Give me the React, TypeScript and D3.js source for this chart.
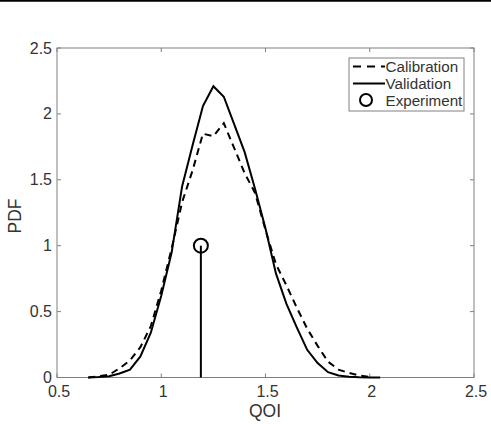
import React from "react";
import * as d3 from "d3";

const qoiCal = [0.65, 0.7, 0.75, 0.8, 0.85, 0.9, 0.95, 1.0, 1.05, 1.1, 1.15, 1.2, 1.25, 1.3, 1.35, 1.4, 1.45, 1.5, 1.55, 1.6, 1.65, 1.7, 1.75, 1.8, 1.85, 1.9, 1.95, 2.0];
const calibration = [0, 0.01, 0.02, 0.07, 0.13, 0.23, 0.39, 0.66, 0.98, 1.33, 1.57, 1.85, 1.83, 1.93, 1.74, 1.55, 1.40, 1.12, 0.86, 0.70, 0.53, 0.37, 0.24, 0.12, 0.06, 0.035, 0.015, 0.004];
const qoiVal = [0.65, 0.7, 0.75, 0.8, 0.85, 0.9, 0.95, 1.0, 1.05, 1.1, 1.15, 1.2, 1.25, 1.3, 1.35, 1.4, 1.45, 1.5, 1.55, 1.6, 1.65, 1.7, 1.75, 1.8, 1.85, 1.9, 1.95, 2.0, 2.05];
const validation = [0, 0.003, 0.01, 0.03, 0.06, 0.16, 0.34, 0.62, 0.95, 1.45, 1.76, 2.06, 2.21, 2.13, 1.92, 1.71, 1.43, 1.13, 0.79, 0.56, 0.38, 0.21, 0.11, 0.04, 0.015, 0.005, 0.001, 0, 0];
const experimentQ = [1.19];
const experimentP = [1.0];
const xTicks = [0.5, 1, 1.5, 2, 2.5];
const yTicks = [0, 0.5, 1, 1.5, 2, 2.5];
const legendLabels = ["Calibration", "Validation", "Experiment"];

export default function App() {
  const W = 491, H = 424;
  const left = 57, right = 474, top = 48, bottom = 377.5;
  const x = d3.scaleLinear().domain([0.5, 2.5]).range([left, right]);
  const y = d3.scaleLinear().domain([0, 2.5]).range([bottom, top]);
  const calPath = d3.line<number>().x((_, i) => x(qoiCal[i])).y((d) => y(d))(calibration) || "";
  const valPath = d3.line<number>().x((_, i) => x(qoiVal[i])).y((d) => y(d))(validation) || "";
  const axisColor = "#808080";
  const textColor = "#333";
  const font = "Liberation Sans, Arial, Helvetica, sans-serif";
  const tickLen = 4;
  const lg = { x0: 349, y0: 58, x1: 464, y1: 111 };
  const rowY = [66.5, 83.5, 100];
  return (
    <svg width={W} height={H} style={{ position: "absolute", left: 0, top: 0 }} fontFamily={font}>
      <rect x={0} y={0} width={W} height={H} fill="#fff" />
      <line x1={0} x2={W} y1={0.8} y2={0.8} stroke="#000" strokeWidth={2} />
      <rect x={left} y={top} width={right - left} height={bottom - top} fill="none" stroke={axisColor} strokeWidth={1} />
      {xTicks.map((t) => (
        <g key={"xt" + t}>
          <line x1={x(t)} x2={x(t)} y1={bottom} y2={bottom - tickLen} stroke={axisColor} />
          <line x1={x(t)} x2={x(t)} y1={top} y2={top + tickLen} stroke={axisColor} />
          <text x={x(t) + 2} y={397} textAnchor="middle" fontSize={16} fill={textColor}>{t}</text>
        </g>
      ))}
      {yTicks.map((t) => (
        <g key={"yt" + t}>
          <line x1={left} x2={left + tickLen} y1={y(t)} y2={y(t)} stroke={axisColor} />
          <line x1={right} x2={right - tickLen} y1={y(t)} y2={y(t)} stroke={axisColor} />
          <text x={52} y={y(t) + 5.5} textAnchor="end" fontSize={16} fill={textColor}>{t}</text>
        </g>
      ))}
      <text x={265} y={417} textAnchor="middle" fontSize={17.5} fill={textColor}>QOI</text>
      <text transform={`translate(21,${216}) rotate(-90)`} textAnchor="middle" fontSize={17.5} fill={textColor}>PDF</text>
      <path d={calPath} fill="none" stroke="#000" strokeWidth={2} strokeDasharray="7,5" />
      <path d={valPath} fill="none" stroke="#000" strokeWidth={2} />
      {experimentQ.map((q, i) => (
        <g key={"ex" + i}>
          <line x1={x(q)} x2={x(q)} y1={y(0)} y2={y(experimentP[i])} stroke="#000" strokeWidth={2} />
          <circle cx={x(q)} cy={y(experimentP[i])} r={7} fill="none" stroke="#000" strokeWidth={2} />
        </g>
      ))}
      <rect x={lg.x0} y={lg.y0} width={lg.x1 - lg.x0} height={lg.y1 - lg.y0} fill="#fff" stroke={axisColor} strokeWidth={1} />
      <line x1={353} x2={385} y1={rowY[0]} y2={rowY[0]} stroke="#000" strokeWidth={2} strokeDasharray="8,6" />
      <line x1={353} x2={385} y1={rowY[1]} y2={rowY[1]} stroke="#000" strokeWidth={2} />
      <circle cx={366} cy={rowY[2]} r={6} fill="none" stroke="#000" strokeWidth={2} />
      {legendLabels.map((l, i) => (
        <text key={l} x={385.5} y={rowY[i] + 5.5} fontSize={15.2} fill={textColor}>{l}</text>
      ))}
    </svg>
  );
}
